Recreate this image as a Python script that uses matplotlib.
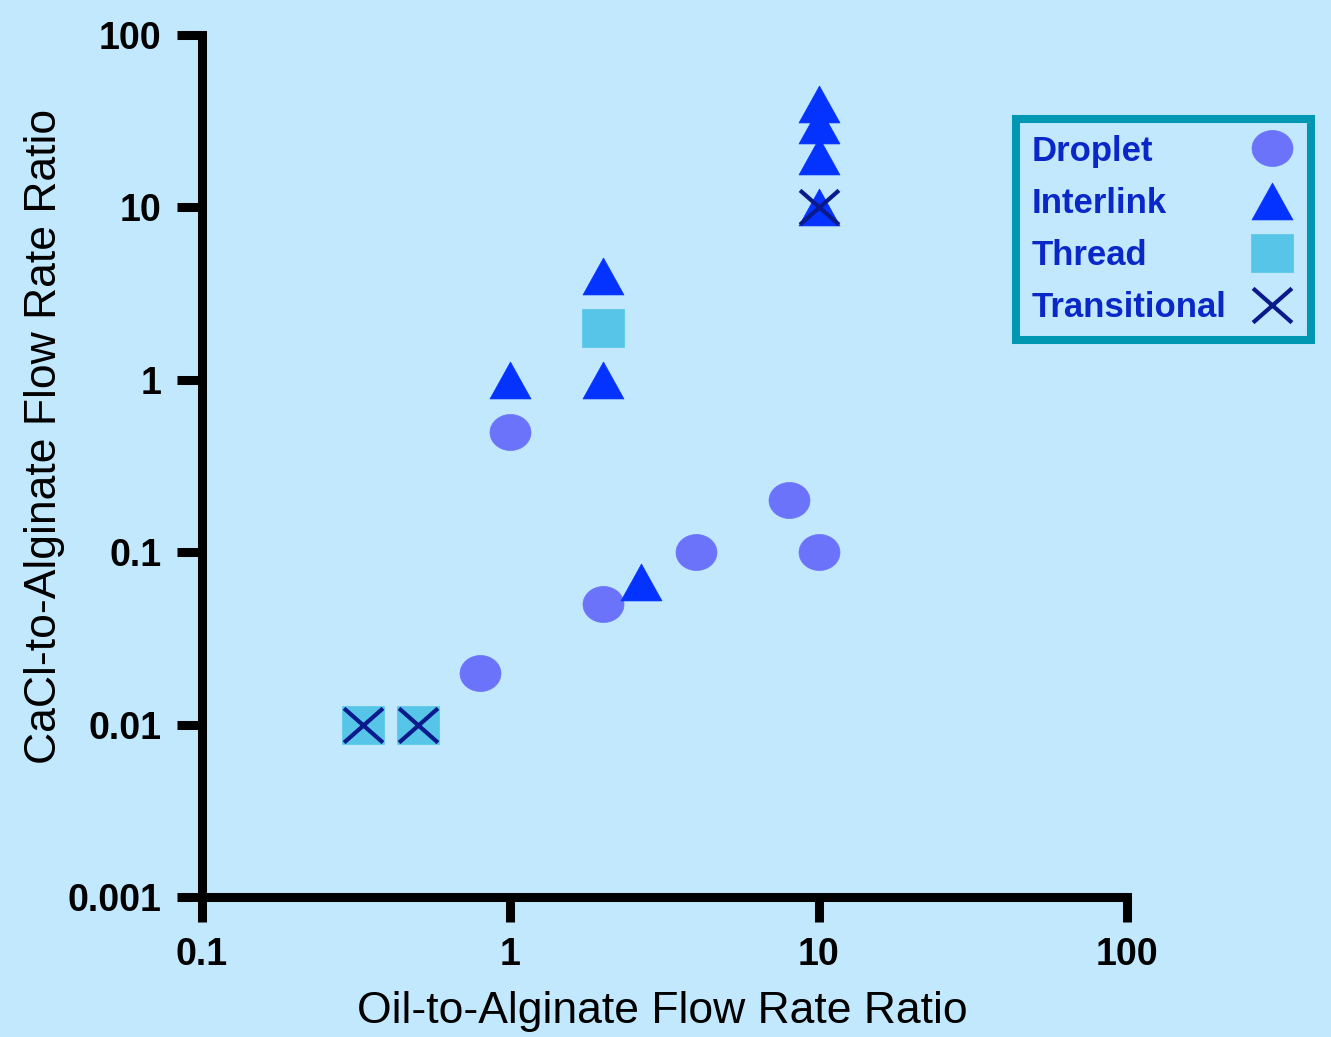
import numpy as np
import matplotlib
matplotlib.use("Agg")
import matplotlib.pyplot as plt
from matplotlib.path import Path

plt.rcParams["font.family"] = ["Liberation Sans", "DejaVu Sans"]

# data (x = oil/alginate, y = CaCl/alginate)
droplet_x = [1, 0.8, 2, 4, 8, 10]
droplet_y = [0.5, 0.02, 0.05, 0.1, 0.2, 0.1]
interlink_x = [1, 2, 2, 2.65, 10, 10, 10, 10]
interlink_y = [1, 4, 1, 0.067, 10, 20, 30, 40]
thread_x = [2, 1 / 3, 0.5]
thread_y = [2, 0.01, 0.01]
trans_x = [1 / 3, 0.5, 10]
trans_y = [0.01, 0.01, 10]

x_ticks = [0.1, 1, 10, 100]
x_labels = ["0.1", "1", "10", "100"]
y_ticks = [0.001, 0.01, 0.1, 1, 10, 100]
y_labels = ["0.001", "0.01", "0.1", "1", "10", "100"]

bg = "#c2e8fd"

# slightly squashed markers, like the original
ell = Path.unit_circle()
m_circle = Path(ell.vertices * [1, 0.88], ell.codes)
m_tri = Path([(0, 0.9), (-1, -0.9), (1, -0.9), (0, 0.9)],
             [Path.MOVETO, Path.LINETO, Path.LINETO, Path.CLOSEPOLY])
m_sq = Path([(-1, -0.9), (1, -0.9), (1, 0.9), (-1, 0.9), (-1, -0.9)],
            [Path.MOVETO, Path.LINETO, Path.LINETO, Path.LINETO, Path.CLOSEPOLY])
m_x = Path([(-1, -0.88), (1, 0.88), (-1, 0.88), (1, -0.88)],
           [Path.MOVETO, Path.LINETO, Path.MOVETO, Path.LINETO])

fig = plt.figure(figsize=(13.31, 10.37), dpi=100)
fig.patch.set_facecolor(bg)
ax = fig.add_axes([202 / 1331, 1 - 897 / 1037, 925 / 1331, 862 / 1037])
ax.set_facecolor(bg)

ax.plot(droplet_x, droplet_y, ls="none", marker=m_circle, ms=29.5,
        color="#6b73fa", mec="#6b73fa", mew=0.5, label="Droplet")
ax.plot(interlink_x, interlink_y, ls="none", marker=m_tri, ms=29.5,
        color="#0433ff", mec="#0433ff", mew=0.5, label="Interlink")
ax.plot(thread_x, thread_y, ls="none", marker=m_sq, ms=30,
        color="#56c5e8", mec="#56c5e8", mew=0.5, label="Thread")
ax.plot(trans_x, trans_y, ls="none", marker=m_x, ms=28,
        color="#0a1a8c", mec="#0a1a8c", mew=3, label="Transitional")

ax.set_xscale("log")
ax.set_yscale("log")
ax.set_xlim(0.1, 100)
ax.set_ylim(0.001, 100)
ax.set_xticks(x_ticks, x_labels)
ax.set_yticks(y_ticks, y_labels)
ax.minorticks_off()
ax.tick_params(length=18, width=6.5, pad=11, labelsize=27, colors="black")
for lab in ax.get_xticklabels() + ax.get_yticklabels():
    lab.set_fontweight("bold")
for s in ["top", "right"]:
    ax.spines[s].set_visible(False)
for s in ["left", "bottom"]:
    ax.spines[s].set_linewidth(6.5)
for ln in ax.lines:
    ln.set_clip_on(False)

ax.set_xlabel("Oil-to-Alginate Flow Rate Ratio", fontsize=32)
ax.set_ylabel("CaCl-to-Alginate Flow Rate Ratio", fontsize=32)
ax.xaxis.set_label_coords(0.498, -0.133)
ax.yaxis.set_label_coords(-0.170, 0.534)
ax.xaxis.label.set_va("center")
ax.yaxis.label.set_va("center")

leg = ax.legend(loc="upper left", bbox_to_anchor=(1016 / 1331, 1 - 119 / 1037),
                bbox_transform=fig.transFigure, borderaxespad=0, numpoints=1,
                markerfirst=False, handlelength=1.35, handletextpad=0.63,
                labelspacing=0.55, borderpad=0.45, frameon=True, fancybox=False,
                prop={"weight": "bold", "size": 25})
leg.get_frame().set_edgecolor("#0097b2")
leg.get_frame().set_linewidth(5.8)
leg.get_frame().set_facecolor(bg)
leg.get_frame().set_alpha(1)
for t in leg.get_texts():
    t.set_color("#0a28c8")

# left-align the labels while keeping the markers in one column
fig.canvas.draw()
rend = fig.canvas.get_renderer()
widths = [t.get_window_extent(rend).width for t in leg.get_texts()]
rows = leg._legend_handle_box.get_children()[0].get_children()
for row, w in zip(rows, widths):
    row.sep = row.sep + (max(widths) - w) * 72 / fig.dpi

fig.savefig("out.png", dpi=100, facecolor=fig.get_facecolor())
